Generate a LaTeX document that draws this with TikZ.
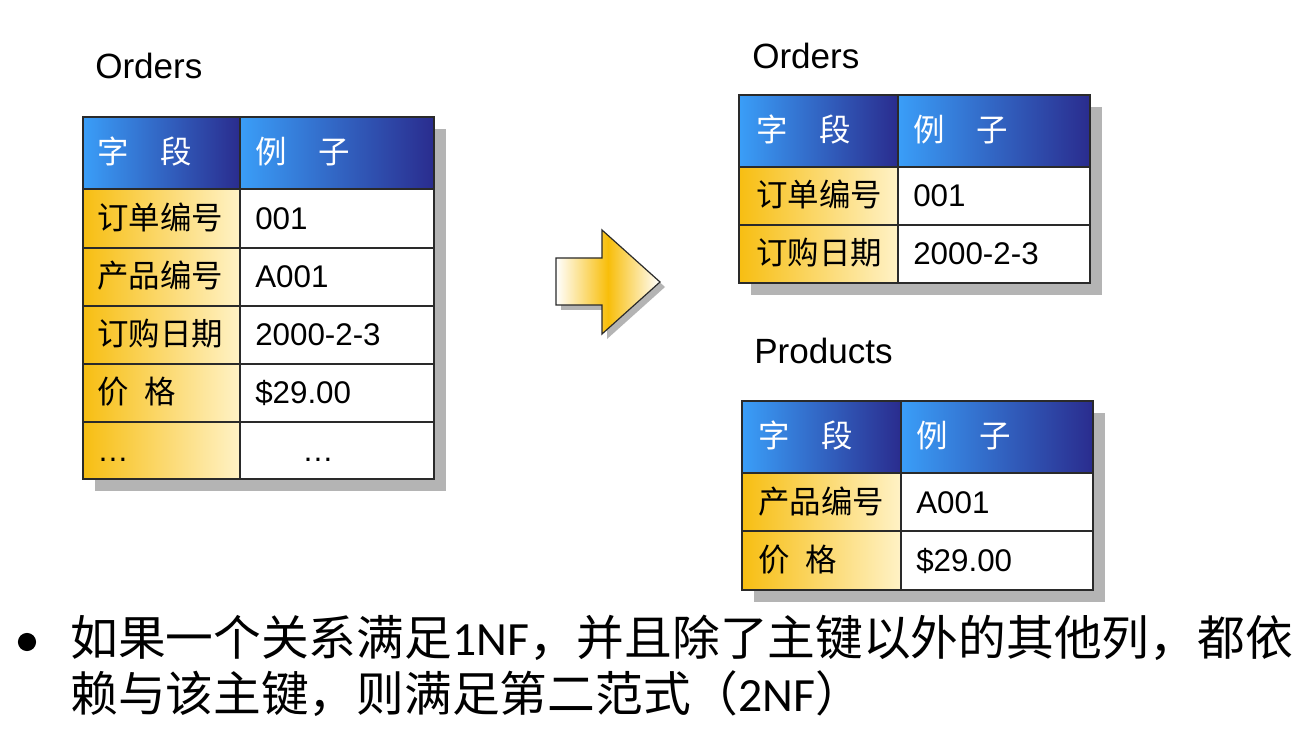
\documentclass[tikz,border=0pt]{standalone}
\usepackage{fontspec}
\newfontfamily\cjk{Noto Sans CJK SC}
\newfontfamily\latin{Liberation Sans}
\newfontfamily\calib{Carlito}

\definecolor{gridline}{HTML}{2A2A2A}
\definecolor{shadowgray}{HTML}{B4B4B4}
\definecolor{hdrL}{HTML}{3A9EF8}
\definecolor{hdrR}{HTML}{2A2C8E}
\definecolor{keyL}{HTML}{F7BE12}
\definecolor{keyR}{HTML}{FFF2C6}
\definecolor{arrowY}{HTML}{F8BE0A}

\tikzset{
  shadowbox/.style={fill=shadowgray},
  hdr/.style={left color=hdrL, right color=hdrR, draw=gridline, line width=1pt},
  keycell/.style={left color=keyL, right color=keyR, draw=gridline, line width=1pt},
  valcell/.style={fill=white, draw=gridline, line width=1pt},
  cjktext/.style={font=\cjk\fontsize{23.6}{28}\selectfont, anchor=base west, inner sep=0pt},
  lattext/.style={font=\latin\fontsize{23.5}{28}\selectfont, anchor=base west, inner sep=0pt},
  hdrtext/.style={cjktext, text=white},
  tabletitle/.style={font=\latin\fontsize{26.3}{30}\selectfont, anchor=base west, inner sep=0pt},
  bodytext/.style={font=\cjk\fontsize{35.8}{42}\selectfont, anchor=base west, inner sep=0pt},
  arrowbody/.style={left color=white, right color=white, middle color=arrowY, draw=gridline, line width=0.9pt},
}

\begin{document}
\begin{tikzpicture}[x=0.75pt,y=-0.75pt]
\useasboundingbox (0,0) rectangle (1299,737);
\fill[white] (0,0) rectangle (1299,737);

% ---------- Orders (before) ----------
\node[tabletitle] (lt) at (95,79) {Orders};
\fill[shadowbox] (95,129) rectangle (446,491);
\draw[hdr] (83,117) rectangle (240,189);
\draw[hdr] (240,117) rectangle (434,189);
\foreach \a/\b in {189/248, 248/306, 306/364, 364/422, 422/479} {
  \draw[keycell] (83,\a) rectangle (240,\b);
  \draw[valcell] (240,\a) rectangle (434,\b);
}
\node[hdrtext] (lh1) at (97,164) {字　段};
\node[hdrtext] (lh2) at (255,164) {例　子};
\node[cjktext] (lk1) at (97,229.5) {订单编号};
\node[lattext] (lv1) at (255,229.5) {001};
\node[cjktext] (lk2) at (97,288) {产品编号};
\node[lattext] (lv2) at (255,288) {A001};
\node[cjktext] (lk3) at (97,346) {订购日期};
\node[lattext] (lv3) at (255,346) {2000-2-3};
\node[cjktext] (lk4) at (97,404) {价\hspace{0.5em}格};
\node[lattext] (lv4) at (255,404) {\$29.00};
\node[lattext] (lk5) at (97,461.5) {…};
\node[lattext] (lv5) at (302,461.5) {…};

% ---------- decomposition arrow ----------
\fill[shadowgray] (561,263) -- (607,263) -- (607,235) -- (665,287) -- (607,339) -- (607,310) -- (561,310) -- cycle;
\draw[arrowbody] (556,258) -- (602,258) -- (602,230) -- (660,282) -- (602,334) -- (602,305) -- (556,305) -- cycle;

% ---------- Orders (after) ----------
\node[tabletitle] (rt1) at (752,68.5) {Orders};
\fill[shadowbox] (751,107) rectangle (1102,295);
\draw[hdr] (739,95) rectangle (898,167);
\draw[hdr] (898,95) rectangle (1090,167);
\foreach \a/\b in {167/225, 225/283} {
  \draw[keycell] (739,\a) rectangle (898,\b);
  \draw[valcell] (898,\a) rectangle (1090,\b);
}
\node[hdrtext] (oh1) at (756,142) {字　段};
\node[hdrtext] (oh2) at (913,142) {例　子};
\node[cjktext] (ok1) at (756,207) {订单编号};
\node[lattext] (ov1) at (913,207) {001};
\node[cjktext] (ok2) at (756,265) {订购日期};
\node[lattext] (ov2) at (913,265) {2000-2-3};

% ---------- Products ----------
\node[tabletitle] (rt2) at (754,363.5) {Products};
\fill[shadowbox] (754,413) rectangle (1105,602);
\draw[hdr] (742,401) rectangle (901,473);
\draw[hdr] (901,401) rectangle (1093,473);
\foreach \a/\b in {473/531, 531/590} {
  \draw[keycell] (742,\a) rectangle (901,\b);
  \draw[valcell] (901,\a) rectangle (1093,\b);
}
\node[hdrtext] (ph1) at (758,448) {字　段};
\node[hdrtext] (ph2) at (916,448) {例　子};
\node[cjktext] (pk1) at (758,513) {产品编号};
\node[lattext] (pv1) at (916,513) {A001};
\node[cjktext] (pk2) at (758,571.5) {价\hspace{0.5em}格};
\node[lattext] (pv2) at (916,571.5) {\$29.00};

% ---------- bullet text ----------
\fill (27,642) circle (6.8pt);
\node[bodytext] (line1) at (70,655) {如果一个关系满足{\calib 1NF}，并且除了主键以外的其他列，都依};
\node[bodytext] (line2) at (70,711) {赖与该主键，则满足第二范式（{\calib 2NF}）};
\end{tikzpicture}
\end{document}
